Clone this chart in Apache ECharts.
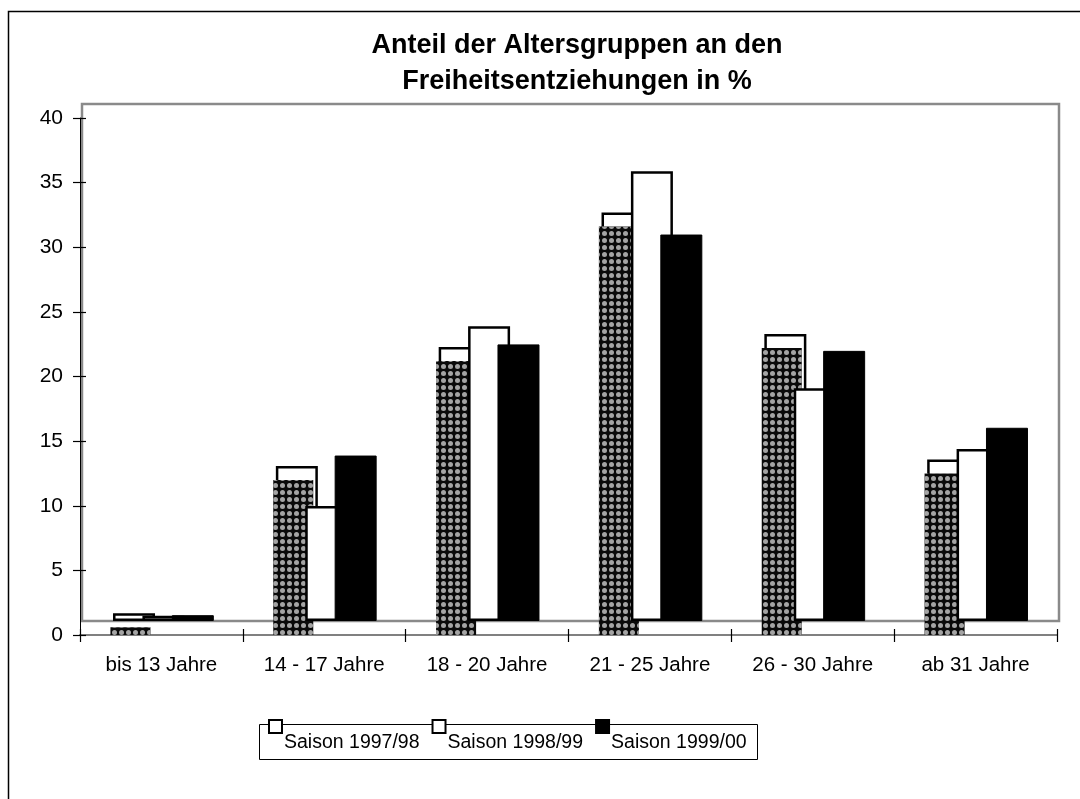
<!DOCTYPE html>
<html>
<head>
<meta charset="utf-8">
<script src="https://cdn.jsdelivr.net/npm/echarts@6/dist/echarts.min.js"></script>
<style>
html,body{margin:0;padding:0;background:#fff;}
#chart{width:1080px;height:799px;}
</style>
</head>
<body>
<div id="chart"></div>
<script>
const categories = ['bis 13 Jahre', '14 - 17 Jahre', '18 - 20 Jahre', '21 - 25 Jahre', '26 - 30 Jahre', 'ab 31 Jahre'];
const season9798 = [0.6, 12.0, 21.2, 31.6, 22.2, 12.5];
const season9899 = [0.4, 8.9, 22.8, 34.8, 18.0, 13.3];
const season9900 = [0.45, 12.8, 21.4, 29.9, 20.9, 14.95];
const seriesNames = ['Saison 1997/98', 'Saison 1998/99', 'Saison 1999/00'];
const titleText = 'Anteil der Altersgruppen an den\nFreiheitsentziehungen in %';

const FONT = 'Liberation Sans, Arial, sans-serif';
const chart = echarts.init(document.getElementById('chart'), null, {renderer: 'canvas'});

const legendIcon = 'path://M0,0H10V10H0Z M10,35.4';

const option = {
  backgroundColor: '#fff',
  animation: false,
  title: {
    text: titleText,
    left: 572,
    top: 23,
    textAlign: 'center',
    textStyle: {fontFamily: FONT, fontSize: 27, fontWeight: 'bold', color: '#000', lineHeight: 36}
  },
  graphic: [
    {type: 'rect', left: 6, top: 9, shape: {width: 1200, height: 1000}, style: {fill: 'none', stroke: '#000', lineWidth: 1.5}, z: -10},
    {type: 'rect', left: 259, top: 724, shape: {width: 498, height: 35}, style: {fill: '#fff', stroke: '#000', lineWidth: 1}, z: 0}
  ],
  legend: {
    data: seriesNames,
    left: 268,
    top: 719,
    padding: 0,
    itemWidth: 13,
    itemHeight: 46,
    itemGap: 12,
    icon: legendIcon,
    textStyle: {fontFamily: FONT, fontSize: 19.5, color: '#000', padding: [0, 0, 0, -3]},
    z: 5
  },
  grid: [
    {left: 80, right: 23, top: 118, bottom: 164, containLabel: false},
    {left: 82, right: 21, top: 104, bottom: 178, containLabel: false, show: true, borderColor: '#8a8a8a', borderWidth: 2.5, backgroundColor: 'transparent'}
  ],
  xAxis: [
    {
      type: 'category', gridIndex: 0, data: categories, position: 'bottom',
      axisLine: {lineStyle: {color: '#808080', width: 2}},
      axisTick: {show: true, alignWithLabel: false, length: 7, lineStyle: {color: '#000', width: 1.2}},
      axisLabel: {fontFamily: FONT, fontSize: 20.5, color: '#000', margin: 20},
      splitLine: {show: false}
    },
    {type: 'category', gridIndex: 1, data: categories, show: false},
    {
      type: 'category', gridIndex: 0, data: categories, position: 'bottom', offset: 0,
      axisLine: {show: false},
      axisTick: {show: true, inside: true, alignWithLabel: false, length: 6, lineStyle: {color: '#000', width: 1.2}},
      axisLabel: {show: false},
      splitLine: {show: false}
    }
  ],
  yAxis: [
    {
      type: 'value', gridIndex: 0, min: 0, max: 40, interval: 5, position: 'left',
      axisLine: {show: true, lineStyle: {color: '#000', width: 1}},
      axisTick: {show: true, length: 7, lineStyle: {color: '#000', width: 1.2}},
      axisLabel: {fontFamily: FONT, fontSize: 21, color: '#000', margin: 17},
      splitLine: {show: false}
    },
    {type: 'value', gridIndex: 1, min: 0, max: 40, interval: 5, show: false, splitLine: {show: false}},
    {
      type: 'value', gridIndex: 0, min: 0, max: 40, interval: 5, position: 'left', offset: 0,
      axisLine: {show: false},
      axisTick: {show: true, inside: true, length: 6, lineStyle: {color: '#000', width: 1.2}},
      axisLabel: {show: false},
      splitLine: {show: false}
    }
  ],
  series: [
    {
      name: seriesNames[0], type: 'bar', xAxisIndex: 1, yAxisIndex: 1, data: season9798,
      barWidth: 42, barGap: '-30%',
      itemStyle: {color: '#fff', borderColor: '#000', borderWidth: 2.5}
    },
    {
      name: seriesNames[0], type: 'bar', xAxisIndex: 0, yAxisIndex: 0, data: season9798,
      barWidth: 40, barGap: '-22.5%',
      itemStyle: {
        color: '#0a0a0a',
        decal: {symbol: 'circle', symbolSize: 1, color: '#a4a4a4', dashArrayX: [5, 2], dashArrayY: [5, 2]}
      }
    },
    {name: '_p1', type: 'bar', xAxisIndex: 0, yAxisIndex: 0, data: [], barWidth: 40, barGap: '-22.5%'},
    {name: '_p2', type: 'bar', xAxisIndex: 0, yAxisIndex: 0, data: [], barWidth: 40, barGap: '-22.5%'},
    {
      name: seriesNames[1], type: 'bar', xAxisIndex: 1, yAxisIndex: 1, data: season9899,
      barWidth: 42, barGap: '-30%',
      itemStyle: {color: '#fff', borderColor: '#000', borderWidth: 2.5}
    },
    {
      name: seriesNames[2], type: 'bar', xAxisIndex: 1, yAxisIndex: 1, data: season9900,
      barWidth: 42, barGap: '-30%',
      itemStyle: {color: '#000', borderColor: '#000', borderWidth: 1}
    }
  ]
};
chart.setOption(option);
</script>
</body>
</html>
